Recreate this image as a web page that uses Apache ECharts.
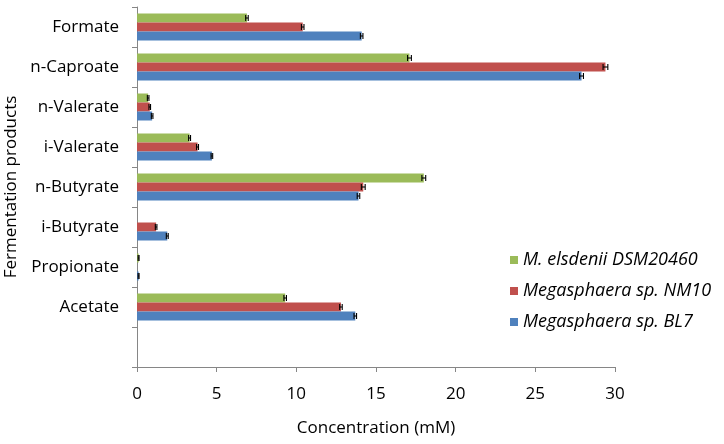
<!DOCTYPE html>
<html>
	<head>
		<meta charset="utf-8" />
		<title></title>
		<style type="text/css">
			html, body{margin:0;padding:0;background:#fff;}
			#main{width:724px;height:444px;}
		</style>
		<script src="https://cdn.jsdelivr.net/npm/echarts/dist/echarts.min.js" type="text/javascript" charset="utf-8"></script>
	</head>
	<body>
		<div id="main"></div>
		<script type="text/javascript">
			// categories, top to bottom (last one is the empty slot under Acetate)
			var categories = ['Formate','n-Caproate','n-Valerate','i-Valerate','n-Butyrate','i-Butyrate','Propionate','Acetate',''];
			var seriesNames = ['M. elsdenii DSM20460','Megasphaera sp. NM10','Megasphaera sp. BL7'];
			var elsdenii = [6.9, 17.1, 0.7, 3.3, 18.0, 0, 0.1, 9.3, null];
			var nm10 = [10.4, 29.4, 0.8, 3.8, 14.2, 1.2, 0, 12.8, null];
			var bl7 = [14.1, 27.9, 0.95, 4.7, 13.9, 1.9, 0.1, 13.7, null];
			var elsdeniiErr = [0.08, 0.12, 0.05, 0.06, 0.12, 0, 0.03, 0.08, null];
			var nm10Err = [0.08, 0.15, 0.05, 0.06, 0.12, 0.05, 0, 0.08, null];
			var bl7Err = [0.08, 0.12, 0.05, 0.05, 0.08, 0.06, 0.03, 0.08, null];
			var xTicks = [0, 5, 10, 15, 20, 25, 30];
			var colors = ['#9BBB59','#C0504D','#4F81BD'];

			var font = 'Open Sans';
			var barShare = 0.225; // each bar's part of a category band

			function errorSeries(values, errs, k){
				var data = [];
				for(var i = 0; i < values.length; i++){
					if(values[i] == null || !errs[i]) continue;
					data.push([values[i], i, errs[i]]);
				}
				return {
					type: 'custom',
					name: seriesNames[k] + ' err',
					z: 5,
					silent: true,
					encode: {x: 0, y: 1},
					data: data,
					renderItem: function(params, api){
						var v = api.value(0), c = api.value(1), e = api.value(2);
						var band = api.size([0, 1])[1];
						var mid = api.coord([v, c]);
						var y = mid[1] + (k - 1) * band * barShare;
						var x1 = api.coord([v - e, c])[0];
						var x2 = api.coord([v + e, c])[0];
						var h = 3;
						var st = {stroke: '#000', lineWidth: 1.1};
						return {
							type: 'group',
							children: [
								{type: 'line', shape: {x1: x1, y1: y, x2: x2, y2: y}, style: st},
								{type: 'line', shape: {x1: x1, y1: y - h, x2: x1, y2: y + h}, style: st},
								{type: 'line', shape: {x1: x2, y1: y - h, x2: x2, y2: y + h}, style: st}
							]
						};
					}
				};
			}

			var myChart = echarts.init(document.getElementById('main'));
			var option = {
				animation: false,
				textStyle: {fontFamily: font},
				grid: {left: 137, right: 109, top: 7, bottom: 77, containLabel: false, outerBoundsMode: 'none'},
				legend: {
					data: seriesNames,
					orient: 'vertical',
					left: 505,
					top: 246,
					itemWidth: 8,
					itemHeight: 8,
					itemGap: 13,
					icon: 'rect',
					textStyle: {fontFamily: font, fontSize: 18, fontStyle: 'italic', color: '#000'}
				},
				xAxis: {
					type: 'value',
					min: 0,
					max: 30,
					interval: 5,
					name: 'Concentration (mM)',
					nameLocation: 'middle',
					nameGap: 53,
					nameTextStyle: {fontFamily: font, fontSize: 17, color: '#000'},
					axisLine: {show: true, lineStyle: {color: '#868686'}},
					axisTick: {show: true, length: 5, lineStyle: {color: '#868686'}},
					axisLabel: {fontFamily: font, fontSize: 17, color: '#000', margin: 19,
						formatter: function(v){ return xTicks.indexOf(v) >= 0 ? v : ''; }},
					splitLine: {show: false}
				},
				yAxis: {
					type: 'category',
					data: categories,
					inverse: true,
					name: 'Fermentation products',
					nameLocation: 'middle',
					nameGap: 114,
					nameTextStyle: {fontFamily: font, fontSize: 17, color: '#000'},
					axisLine: {show: true, lineStyle: {color: '#868686'}},
					axisTick: {show: true, length: 5, lineStyle: {color: '#868686'}},
					axisLabel: {fontFamily: font, fontSize: 17, color: '#000', margin: 18}
				},
				series: [
					{name: seriesNames[0], type: 'bar', data: elsdenii, barGap: '0%', barCategoryGap: '32.5%', itemStyle: {color: colors[0]}},
					{name: seriesNames[1], type: 'bar', data: nm10, barGap: '0%', barCategoryGap: '32.5%', itemStyle: {color: colors[1]}},
					{name: seriesNames[2], type: 'bar', data: bl7, barGap: '0%', barCategoryGap: '32.5%', itemStyle: {color: colors[2]}},
					errorSeries(elsdenii, elsdeniiErr, 0),
					errorSeries(nm10, nm10Err, 1),
					errorSeries(bl7, bl7Err, 2)
				]
			};
			myChart.setOption(option);
		</script>
	</body>
</html>
